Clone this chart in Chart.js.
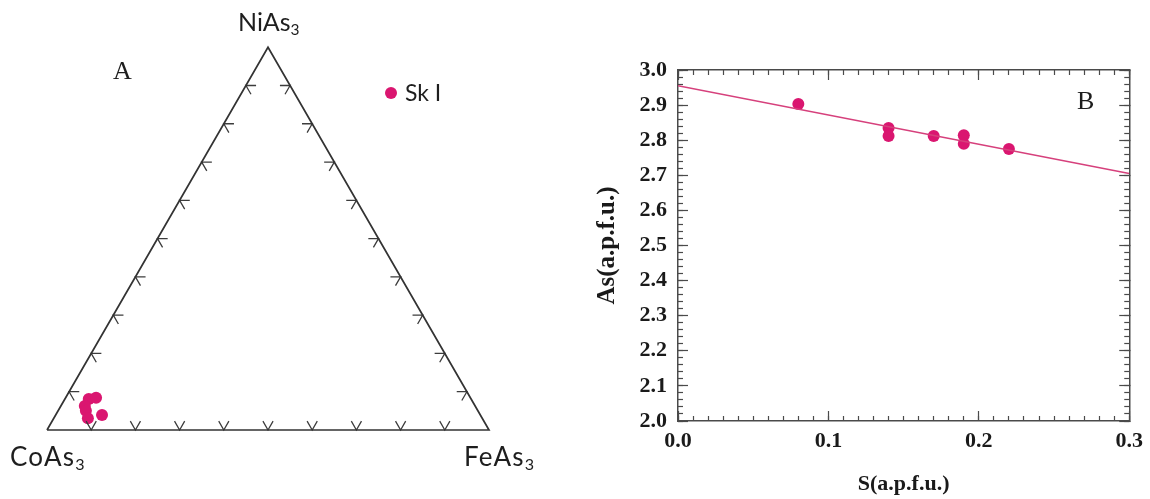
<!DOCTYPE html>
<html>
<head>
<meta charset="utf-8">
<title>Skutterudite composition</title>
<script src="https://cdn.jsdelivr.net/npm/chart.js@4.4.1/dist/chart.umd.min.js"></script>
<style>
  html, body { margin: 0; padding: 0; background: #fff; }
  #page { position: relative; width: 1150px; height: 499px; overflow: hidden; }
  canvas { position: absolute; top: 0; }
  #ternary { left: 0; }
  #scatter { left: 560px; }
  .lbl { position: absolute; line-height: 1; white-space: nowrap; color: #1e1e1e; }
  .sans { font-family: Lato, "Open Sans", sans-serif; font-size: 25px; }
  .wide { font-size: 26px; letter-spacing: 1.2px; }
  .sans sub { font-size: 62%; vertical-align: -0.25em; letter-spacing: 0; }
  .serif { font-family: "Liberation Serif", "DejaVu Serif", serif; font-size: 26px; }
  .dot { position: absolute; width: 12px; height: 12px; border-radius: 50%; background: rgb(218, 22, 112); }
</style>
</head>
<body>
<div id="page">
  <canvas id="ternary" width="560" height="499"></canvas>
  <canvas id="scatter" width="590" height="499"></canvas>

  <div class="lbl sans" style="left:238px; top:9px;">NiAs<sub>3</sub></div>
  <div class="lbl sans wide" style="left:10px; top:443px;">CoAs<sub>3</sub></div>
  <div class="lbl sans wide" style="left:464px; top:443px;">FeAs<sub>3</sub></div>
  <div class="lbl serif" style="left:113px; top:58px;">A</div>
  <div class="lbl serif" style="left:1077px; top:88px;">B</div>

  <div class="dot" style="left:385px; top:87px;"></div>
  <div class="lbl sans" style="left:405px; top:81px; font-size:23px;">Sk I</div>
</div>

<script>
// ---- data: panel A (ternary, fractions of CoAs3 / NiAs3 / FeAs3) ----
const coAs3 = [0.865, 0.847, 0.883, 0.887, 0.892, 0.856];
const niAs3 = [0.081, 0.084, 0.063, 0.050, 0.031, 0.039];
const feAs3 = [0.054, 0.069, 0.054, 0.063, 0.077, 0.105];
const ternaryTicks = [0.1, 0.2, 0.3, 0.4, 0.5, 0.6, 0.7, 0.8, 0.9];

// ---- data: panel B (As vs S, a.p.f.u.) ----
const sApfu = [0.08, 0.14, 0.14, 0.17, 0.19, 0.19, 0.22];
const asApfu = [2.903, 2.835, 2.812, 2.812, 2.814, 2.790, 2.775];
const fitIntercept = 2.955;
const fitSlope = -0.833;
const fitRange = [0.0, 0.3];

const pink = 'rgb(218, 22, 112)';
const lineColor = '#333';

// ternary composition -> cartesian (Co bottom-left, Fe bottom-right, Ni top)
function toXY(co, ni, fe) {
    const s = co + ni + fe;
    return { x: (fe + ni / 2) / s, y: (ni / s) * Math.sqrt(3) / 2 };
}

// triangle outline
const frame = [toXY(1, 0, 0), toXY(0, 0, 1), toXY(0, 1, 0), toXY(1, 0, 0)];

// chevron tick marks along each edge, arms follow the two other grid directions
const arm = 0.023;
const chevrons = [];
function addChevron(a, tip, b) {
    chevrons.push(toXY(...a), toXY(...tip), toXY(...b), { x: tip[0], y: null });
}
ternaryTicks.forEach(t => {
    // bottom edge (Ni = 0)
    addChevron([1 - t - arm, arm, t], [1 - t, 0, t], [1 - t, arm, t - arm]);
    // left edge (Fe = 0)
    addChevron([1 - t - arm, t, arm], [1 - t, t, 0], [1 - t, t - arm, arm]);
    // right edge (Co = 0)
    addChevron([arm, 1 - t - arm, t], [0, 1 - t, t], [arm, 1 - t, t - arm]);
});

const skPoints = coAs3.map((c, i) => toXY(c, niAs3[i], feAs3[i]));

// pixel layout of panel A: CoAs3 corner at (47, 430), side 442px
const side = 442;
new Chart(document.getElementById('ternary').getContext('2d'), {
    type: 'scatter',
    data: {
        datasets: [
            { data: frame, showLine: true, borderColor: lineColor, borderWidth: 1.7, pointRadius: 0 },
            { data: chevrons, showLine: true, spanGaps: false, borderColor: '#3c3c3c', borderWidth: 1.3, pointRadius: 0 },
            { label: 'Sk I', data: skPoints, pointRadius: 6, backgroundColor: pink, borderColor: pink, borderWidth: 0 }
        ]
    },
    options: {
        responsive: false,
        animation: false,
        layout: { padding: 0, autoPadding: false },
        plugins: { legend: { display: false }, tooltip: { enabled: false } },
        scales: {
            x: { type: 'linear', display: false, min: -47 / side, max: (560 - 47) / side },
            y: { type: 'linear', display: false, min: -(499 - 430) / side, max: 430 / side }
        }
    }
});

// ---- panel B ----
const fitLine = fitRange.map(s => ({ x: s, y: fitIntercept + fitSlope * s }));
const scatterData = sApfu.map((s, i) => ({ x: s, y: asApfu[i] }));

const axisColor = '#4a4a4a';
const tickFont = { family: '"Liberation Serif", serif', size: 22, weight: 'bold' };
const titleFont = { family: '"Liberation Serif", serif', size: 22, weight: 'bold' };
const yTitleFont = { family: '"Liberation Serif", serif', size: 25, weight: 'bold' };

// inward tick marks only, no labels, zero size in the layout
function tickAxis(position, min, max, step, length, withBorder) {
    const horizontal = position === 'top' || position === 'bottom';
    return {
        type: 'linear', position, min, max, weight: 0,
        ticks: { display: false, stepSize: step, autoSkip: false },
        grid: { drawOnChartArea: false, tickLength: -length, tickColor: axisColor, tickWidth: 1.2 },
        border: { display: withBorder, color: axisColor, width: 1.5 },
        afterFit: s => { if (horizontal) s.height = 0; else s.width = 0; }
    };
}

new Chart(document.getElementById('scatter').getContext('2d'), {
    type: 'scatter',
    data: {
        datasets: [
            { data: fitLine, showLine: true, borderColor: 'rgb(214, 64, 124)', borderWidth: 1.4, pointRadius: 0, xAxisID: 'x', yAxisID: 'y' },
            { data: scatterData, pointRadius: 6, backgroundColor: pink, borderColor: pink, borderWidth: 0, xAxisID: 'x', yAxisID: 'y' }
        ]
    },
    options: {
        responsive: false,
        animation: false,
        layout: { padding: { top: 70, right: 20, left: 0, bottom: 0 }, autoPadding: false },
        plugins: { legend: { display: false }, tooltip: { enabled: false } },
        scales: {
            // labels only; the tick marks come from xMajor / xMinor
            x: {
                type: 'linear', position: 'bottom', min: 0, max: 0.3, weight: 1,
                ticks: { stepSize: 0.1, autoSkip: false, maxRotation: 0, padding: 7, color: '#1a1a1a', font: tickFont,
                    callback: v => v.toFixed(1) },
                grid: { drawOnChartArea: false, drawTicks: false },
                border: { display: true, color: axisColor, width: 1.5 },
                title: { display: true, text: 'S(a.p.f.u.)', color: '#1a1a1a', font: titleFont, padding: { top: 0, bottom: 1 } },
                afterFit: s => { s.height = 78; }
            },
            y: {
                type: 'linear', position: 'left', min: 2.0, max: 3.0, weight: 1,
                ticks: { stepSize: 0.1, autoSkip: false, padding: 11, color: '#1a1a1a', font: tickFont,
                    callback: v => v.toFixed(1) },
                grid: { drawOnChartArea: false, drawTicks: false },
                border: { display: true, color: axisColor, width: 1.5 },
                title: { display: true, text: 'As(a.p.f.u.)', color: '#1a1a1a', font: yTitleFont, padding: { top: 33, bottom: 0 } },
                afterFit: s => { s.width = 118; }
            },
            xMajor: tickAxis('bottom', 0, 0.3, 0.1, 10, false),
            xMinor: tickAxis('bottom', 0, 0.3, 0.01, 5, false),
            yMajor: tickAxis('left', 2.0, 3.0, 0.1, 10, false),
            yMinor: tickAxis('left', 2.0, 3.0, 0.02, 5, false),
            xTop: tickAxis('top', 0, 0.3, 0.1, 10, true),
            xTopMinor: tickAxis('top', 0, 0.3, 0.01, 5, false),
            yRight: tickAxis('right', 2.0, 3.0, 0.1, 10, true),
            yRightMinor: tickAxis('right', 2.0, 3.0, 0.02, 5, false)
        }
    }
});
</script>
</body>
</html>
